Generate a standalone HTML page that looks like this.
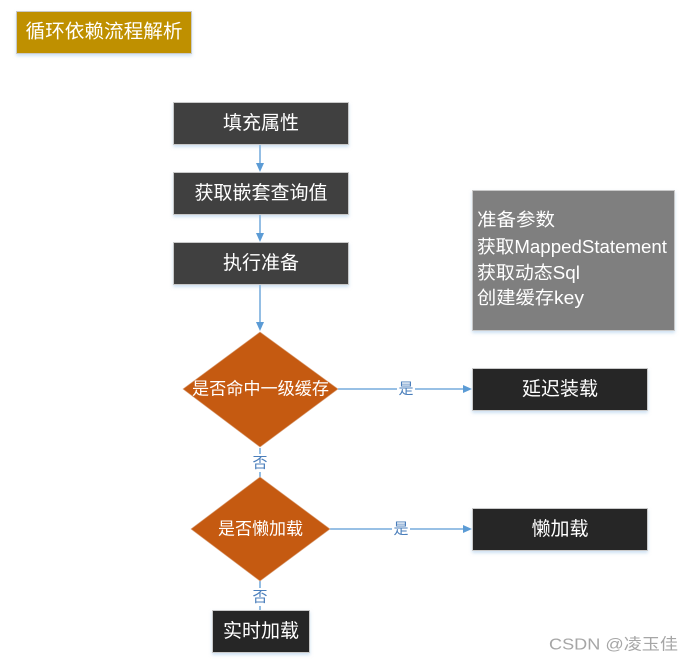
<!DOCTYPE html>
<html><head><meta charset="utf-8">
<style>
html,body{margin:0;padding:0;background:#fff;}
svg{display:block;}
text{font-family:"Liberation Sans","Noto Sans CJK SC",sans-serif;}
</style></head>
<body>
<svg width="694" height="665" viewBox="0 0 694 665" xmlns="http://www.w3.org/2000/svg">
<defs>
<filter id="sh" x="-10%" y="-10%" width="120%" height="140%">
<feDropShadow dx="0" dy="2" stdDeviation="1.5" flood-color="#9dc3e6" flood-opacity="0.5"/>
</filter>
</defs>
<rect width="694" height="665" fill="#fff"/>

<!-- title -->
<rect x="16.5" y="11.5" width="175" height="42" fill="#BF9000" stroke="#c9c9c9" filter="url(#sh)"/>
<text x="104" y="32" fill="#fff" font-size="19" text-anchor="middle" dominant-baseline="central" textLength="157" lengthAdjust="spacingAndGlyphs">循环依赖流程解析</text>

<!-- connectors top -->
<g stroke="#5B9BD5" stroke-width="1.3" fill="none">
<line x1="260" y1="144" x2="260" y2="164"/>
<line x1="260" y1="214" x2="260" y2="234"/>
<line x1="260" y1="284" x2="260" y2="322"/>
<line x1="338" y1="389" x2="464" y2="389"/>
<line x1="330" y1="529" x2="464" y2="529"/>
<line x1="260" y1="448" x2="260" y2="477"/>
<line x1="260" y1="581" x2="260" y2="610"/>
</g>
<g fill="#5B9BD5">
<polygon points="256,163 264,163 260,172"/>
<polygon points="256,233 264,233 260,242"/>
<polygon points="256,322 264,322 260,331"/>
<polygon points="463,385 463,393 472,389"/>
<polygon points="463,525 463,533 472,529"/>
</g>

<!-- boxes -->
<rect x="173.5" y="102.5" width="175" height="42" fill="#404040" stroke="#c9c9c9" filter="url(#sh)"/>
<text x="261" y="123.5" fill="#fff" font-size="19" text-anchor="middle" dominant-baseline="central">填充属性</text>
<rect x="173.5" y="172.5" width="175" height="42" fill="#404040" stroke="#c9c9c9" filter="url(#sh)"/>
<text x="261" y="193.5" fill="#fff" font-size="19" text-anchor="middle" dominant-baseline="central">获取嵌套查询值</text>
<rect x="173.5" y="242.5" width="175" height="42" fill="#404040" stroke="#c9c9c9" filter="url(#sh)"/>
<text x="261" y="263.5" fill="#fff" font-size="19" text-anchor="middle" dominant-baseline="central">执行准备</text>

<!-- gray box -->
<rect x="472.5" y="190.5" width="202" height="140" fill="#7F7F7F" stroke="#c9c9c9" filter="url(#sh)"/>
<g fill="#fff" font-size="18">
<text x="477" y="220" dominant-baseline="central" textLength="78" lengthAdjust="spacingAndGlyphs">准备参数</text>
<text x="477" y="247" dominant-baseline="central" textLength="190" lengthAdjust="spacingAndGlyphs">获取MappedStatement</text>
<text x="477" y="273" dominant-baseline="central" textLength="103" lengthAdjust="spacingAndGlyphs">获取动态Sql</text>
<text x="477" y="298" dominant-baseline="central" textLength="107" lengthAdjust="spacingAndGlyphs">创建缓存key</text>
</g>

<!-- diamond 1 -->
<polygon points="260,332 338,389 260,447 183,389" fill="#C55A11" stroke="#d9a07a" stroke-width="0.6"/>
<text x="260.5" y="389" fill="#fff" font-size="17" text-anchor="middle" dominant-baseline="central" textLength="137" lengthAdjust="spacingAndGlyphs">是否命中一级缓存</text>

<!-- diamond 2 -->
<polygon points="260,477 330,529 260,581 191,529" fill="#C55A11" stroke="#d9a07a" stroke-width="0.6"/>
<text x="260.5" y="529" fill="#fff" font-size="17" text-anchor="middle" dominant-baseline="central" textLength="85" lengthAdjust="spacingAndGlyphs">是否懒加载</text>

<!-- labels -->
<g fill="#4A7EBB" font-size="15" text-anchor="middle" dominant-baseline="central">
<rect x="397" y="380" width="18" height="18" fill="#fff"/>
<text x="406" y="389">是</text>
<rect x="392" y="520" width="18" height="18" fill="#fff"/>
<text x="401" y="529">是</text>
<rect x="251" y="454" width="18" height="18" fill="#fff"/>
<text x="260" y="463">否</text>
<rect x="251" y="588" width="18" height="18" fill="#fff"/>
<text x="260" y="597">否</text>
</g>

<!-- right boxes -->
<rect x="472.5" y="368.5" width="175" height="42" fill="#262626" stroke="#c9c9c9" filter="url(#sh)"/>
<text x="560" y="389.5" fill="#fff" font-size="19" text-anchor="middle" dominant-baseline="central">延迟装载</text>
<rect x="472.5" y="508.5" width="175" height="42" fill="#262626" stroke="#c9c9c9" filter="url(#sh)"/>
<text x="560" y="529.5" fill="#fff" font-size="19" text-anchor="middle" dominant-baseline="central">懒加载</text>

<!-- bottom box -->
<rect x="212.5" y="610.5" width="97" height="42" fill="#262626" stroke="#c9c9c9" filter="url(#sh)"/>
<text x="261" y="631.5" fill="#fff" font-size="19" text-anchor="middle" dominant-baseline="central">实时加载</text>

<!-- watermark -->
<text x="549" y="645" fill="#a6a6a6" font-size="16" dominant-baseline="central" textLength="129" lengthAdjust="spacingAndGlyphs">CSDN @凌玉佳</text>
</svg>
</body></html>
